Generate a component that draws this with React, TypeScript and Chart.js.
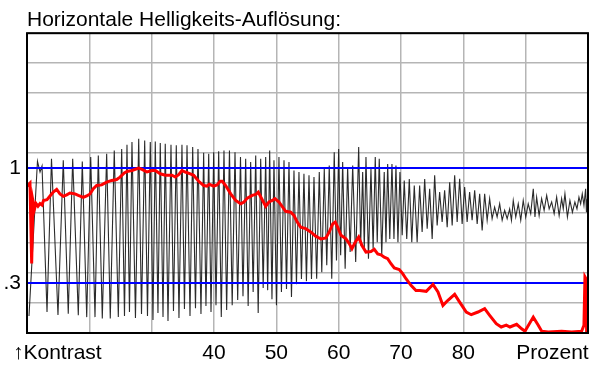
import { useEffect, useRef } from "react";
import { Chart, registerables } from "chart.js";

Chart.register(...registerables);

const TITLE = "Horizontale Helligkeits-Auflösung:";
const FONT = "'Liberation Sans', Arial, sans-serif";

const X_MIN = 10;
const X_MAX = 100;
const Y_MIN = 0;
const Y_MAX = 10;

const xTickValues = [14.86, 40, 50, 60, 70, 80, 94.3];
const xTickLabels = ["\u2191Kontrast", "40", "50", "60", "70", "80", "Prozent"];

const thresholdValues = [1.667, 5.5];
const thresholdLabels = [".3", "1"];

// red: measured contrast curve
const redX = [
  10.0, 10.48, 10.75, 10.96, 11.2, 11.44, 11.76, 12.09, 12.41, 12.65,
  13.21, 13.69, 14.22, 14.76, 15.29, 15.82, 16.37, 16.9, 17.7, 18.23,
  19.03, 19.58, 20.11, 20.64, 21.18, 21.98, 22.78, 23.59, 24.39, 24.92,
  25.61, 26.04, 26.84, 27.92, 28.45, 29.25, 30.05, 30.58, 31.38, 32.18,
  33.26, 33.79, 34.33, 34.86, 35.39, 36.2, 36.74, 37.54, 38.34, 38.87,
  39.24, 39.95, 40.48, 41.01, 41.33, 41.87, 42.68, 43.48, 44.28, 44.81,
  45.34, 46.14, 46.69, 47.1, 47.65, 48.29, 48.82, 49.35, 49.78, 50.42,
  51.5, 52.3, 52.83, 53.36, 53.9, 54.71, 55.51, 56.31, 56.84, 57.16,
  57.96, 58.49, 59.04, 59.45, 59.84, 60.37, 61.17, 61.7, 62.13, 62.66,
  63.21, 63.74, 64.38, 65.18, 65.71, 66.26, 66.79, 67.31, 67.86, 68.39,
  68.92, 69.72, 70.27, 70.8, 71.6, 72.4, 72.99, 74.05, 75.13, 75.93,
  76.73, 77.53, 78.61, 79.41, 80.47, 81.27, 82.35, 83.42, 84.22, 85.28,
  86.08, 86.89, 87.48, 88.55, 89.36, 89.89, 91.22, 92.02, 92.57, 93.63,
  95.77, 97.38, 98.98, 99.35, 99.51, 99.67, 99.78,
];
const redY = [
  4.9, 5.0, 2.32, 4.4, 4.13, 4.32, 4.23, 4.32, 4.27, 4.42,
  4.45, 4.57, 4.7, 4.79, 4.64, 4.56, 4.61, 4.67, 4.64, 4.59,
  4.52, 4.57, 4.64, 4.81, 4.92, 4.94, 5.03, 5.09, 5.12, 5.2,
  5.34, 5.39, 5.42, 5.5, 5.46, 5.37, 5.42, 5.42, 5.31, 5.26,
  5.26, 5.2, 5.28, 5.42, 5.37, 5.31, 5.26, 5.06, 4.92, 4.9,
  4.96, 4.9, 4.94, 5.06, 5.06, 4.92, 4.64, 4.42, 4.31, 4.37,
  4.5, 4.59, 4.62, 4.7, 4.48, 4.23, 4.37, 4.42, 4.48, 4.37,
  4.06, 4.03, 3.92, 3.7, 3.53, 3.48, 3.37, 3.23, 3.17, 3.14,
  3.17, 3.37, 3.64, 3.7, 3.53, 3.26, 3.14, 2.98, 2.81, 3.03,
  3.2, 2.92, 2.7, 2.72, 2.79, 2.64, 2.61, 2.53, 2.48, 2.31,
  2.17, 2.12, 1.98, 1.81, 1.59, 1.42, 1.42, 1.39, 1.62, 1.37,
  0.92, 1.09, 1.29, 1.03, 0.7, 0.61, 0.7, 0.81, 0.59, 0.31,
  0.2, 0.26, 0.2, 0.29, 0.14, 0.06, 0.53, 0.26, 0.06, 0.03,
  0.06, 0.03, 0.06, 0.26, 1.87, 1.81, 0.03,
];

// black: raw test-pattern signal (peaks and troughs)
const blackX = [
  10.32, 11.68, 12.09, 12.41, 13.21, 13.93, 14.97, 15.82, 16.62, 17.33, 18.23, 18.87, 19.58, 20.22, 20.91, 21.44, 22.08, 22.78, 23.36, 24.0, 24.65, 25.19,
  25.64, 26.04, 26.44, 26.84, 27.4, 27.92, 28.37, 28.88, 29.33, 29.78, 30.21, 30.58, 31.01, 31.38, 31.82, 32.18, 32.62, 33.1, 33.5, 33.95, 34.38, 34.86, 35.26, 35.67, 36.15, 36.58, 37.03, 37.43, 37.91, 38.34, 38.71, 39.15, 39.52, 39.95, 40.32, 40.75,
  41.17, 41.6, 42.03, 42.48, 42.92, 43.37, 43.8, 44.25, 44.65, 45.08, 45.48, 45.88, 46.28, 46.69, 47.09, 47.49, 47.89, 48.29, 48.61, 48.93, 49.3, 49.62, 50.02, 50.42, 50.82, 51.23, 51.63, 52.03, 52.43, 52.83, 53.23, 53.63, 54.03, 54.43, 54.83, 55.24, 55.64, 56.04,
  56.47, 56.89, 57.29, 57.69, 58.09, 58.49, 58.89, 59.29, 59.65, 60.0, 60.32, 60.64, 61.04, 61.44, 61.84, 62.25, 62.73, 63.21, 63.53, 63.85, 64.11, 64.38, 64.78, 65.18, 65.53, 65.87, 66.19, 66.51, 66.91, 67.31, 67.59, 67.86, 68.2, 68.55, 68.87, 69.19, 69.51, 69.83, 70.19, 70.52, 70.92, 71.33, 71.73, 72.13,
  72.59, 72.99, 73.39, 73.8, 74.2, 74.6, 75.0, 75.4, 75.8, 76.2, 76.6, 77.0, 77.41, 77.81, 78.21, 78.61, 79.01, 79.41, 79.81, 80.21, 80.61, 81.01, 81.41, 81.82, 82.22, 82.62, 83.02, 83.42, 83.82, 84.22, 84.62, 85.02, 85.42, 85.83, 86.23, 86.63, 87.03, 87.43,
  87.72, 88.01, 88.41, 88.81, 89.21, 89.61, 90.01, 90.41, 90.81, 91.22, 91.49, 91.76, 92.16, 92.56, 92.96, 93.37, 93.77, 94.17, 94.57, 94.97, 95.37, 95.77, 96.03, 96.3, 96.7, 97.1, 97.5, 97.9, 98.23, 98.55, 98.82, 99.08, 99.35, 99.62, 99.75, 99.88, 100.0,
];
const blackY = [
  0.57, 5.73, 5.37, 5.57, 0.7, 5.81, 0.6, 5.76, 0.64, 5.81, 0.59, 5.72, 0.53, 5.87, 0.53, 5.92, 0.48, 5.98, 0.48, 6.09, 0.53, 6.14,
  0.57, 6.28, 0.7, 6.37, 0.5, 6.48, 0.63, 6.42, 0.57, 6.37, 0.43, 6.39, 0.67, 6.34, 0.53, 6.31, 0.4, 6.28, 0.73, 6.26, 0.5, 6.28, 0.8, 6.26, 0.57, 6.2, 0.83, 6.14, 0.63, 6.01, 0.9, 5.98, 0.7, 6.03, 0.93, 6.06,
  0.53, 6.09, 0.77, 6.09, 0.93, 6.03, 1.1, 5.87, 1.23, 5.81, 0.9, 5.7, 1.37, 5.92, 0.67, 5.81, 1.5, 5.87, 1.43, 6.09, 1.13, 5.76, 0.93, 5.87, 1.37, 5.76, 1.47, 5.7, 1.2, 5.42, 1.63, 5.37, 1.8, 5.31, 1.73, 5.26, 1.8, 5.2,
  1.81, 5.37, 2.03, 5.48, 2.26, 5.59, 1.81, 6.03, 2.42, 6.14, 2.59, 5.7, 2.14, 5.53, 2.7, 5.59, 2.37, 6.2, 2.92, 5.37, 2.81, 5.87, 2.48, 5.48, 2.81, 5.87, 3.03, 5.81, 2.59, 5.37, 3.03, 5.64, 3.14, 5.64, 3.14, 5.59, 3.03, 5.37, 3.26, 5.09, 3.14, 5.14, 3.03, 4.92,
  3.03, 4.92, 3.37, 5.14, 3.48, 4.81, 3.14, 5.26, 3.59, 4.7, 3.7, 4.76, 3.53, 5.03, 3.59, 5.26, 3.7, 5.14, 3.64, 4.87, 3.7, 4.7, 3.76, 4.76, 3.64, 4.64, 3.42, 4.64, 3.76, 4.48, 3.81, 4.2, 3.87, 4.31, 3.76, 4.09, 3.81, 4.14,
  3.76, 4.42, 3.87, 4.31, 3.76, 4.42, 3.87, 4.31, 3.98, 4.81, 3.87, 4.53, 3.92, 4.48, 4.09, 4.59, 4.14, 4.37, 3.98, 4.53, 3.92, 4.48, 4.14, 4.64, 3.87, 4.42, 4.03, 4.37, 4.14, 4.53, 4.31, 4.64, 4.26, 4.81, 4.03, 4.48, 4.03,
];

const boxPlugin = {
  id: "plotBox",
  afterDatasetsDraw(chart: any) {
    const { ctx, chartArea: a } = chart;
    ctx.save();
    ctx.strokeStyle = "#000";
    ctx.lineWidth = 2;
    ctx.strokeRect(a.left, a.top, a.right - a.left, a.bottom - a.top);
    ctx.restore();
  },
};

export default function App() {
  const ref = useRef<HTMLCanvasElement>(null);

  useEffect(() => {
    document.body.style.margin = "0";
    const canvas = ref.current;
    if (!canvas) return;

    const red = redX.map((x, i) => ({ x, y: redY[i] }));
    const black = blackX.map((x, i) => ({ x, y: blackY[i] }));
    const thresholds = thresholdValues.map((v, i) => ({
      label: "Schwelle " + thresholdLabels[i],
      data: [
        { x: X_MIN, y: v },
        { x: X_MAX, y: v },
      ],
      borderColor: "#0000ff",
      borderWidth: 2,
      pointRadius: 0,
      order: 1,
      xAxisID: "x",
      yAxisID: "y",
    }));

    const chart = new Chart(canvas, {
      type: "line",
      data: {
        datasets: [
          {
            label: "Kontrast",
            data: red,
            borderColor: "#ff0000",
            borderWidth: 3,
            pointRadius: 0,
            order: 0,
            xAxisID: "x",
            yAxisID: "y",
          },
          ...thresholds,
          {
            label: "Signal",
            data: black,
            borderColor: "rgba(20,20,20,0.9)",
            borderWidth: 1.1,
            pointRadius: 0,
            order: 2,
            xAxisID: "x",
            yAxisID: "y",
          },
        ],
      },
      options: {
        responsive: false,
        animation: false,
        devicePixelRatio: 1,
        layout: { padding: { top: 8, right: 12, bottom: 0, left: 0 } },
        plugins: {
          legend: { display: false },
          tooltip: { enabled: false },
          title: {
            display: true,
            text: TITLE,
            align: "start",
            fullSize: false,
            color: "#000",
            font: { family: FONT, size: 21, weight: "normal" },
            padding: { top: 0, bottom: 0 },
          },
        },
        scales: {
          x: {
            type: "linear",
            min: X_MIN,
            max: X_MAX,
            ticks: { display: false, stepSize: 10 },
            grid: { color: "#b5b5b5", lineWidth: 1.5, drawTicks: false },
            border: { display: false },
            afterFit: (s: any) => {
              s.height = 0;
            },
          },
          xLab: {
            type: "linear",
            position: "bottom",
            min: X_MIN,
            max: X_MAX,
            grid: { display: false, drawTicks: false },
            border: { display: false },
            afterBuildTicks: (s: any) => {
              s.ticks = xTickValues.map((v) => ({ value: v }));
            },
            ticks: {
              autoSkip: false,
              maxRotation: 0,
              padding: 8,
              color: "#000",
              font: { family: FONT, size: 21 },
              callback: (_v: any, i: number) => xTickLabels[i],
            },
            afterFit: (s: any) => {
              s.height = 37;
            },
          },
          y: {
            type: "linear",
            min: Y_MIN,
            max: Y_MAX,
            ticks: { display: false, stepSize: 1 },
            grid: { color: "#b5b5b5", lineWidth: 1.5, drawTicks: false },
            border: { display: false },
            afterFit: (s: any) => {
              s.width = 0;
            },
          },
          yLab: {
            type: "linear",
            position: "left",
            min: Y_MIN,
            max: Y_MAX,
            grid: { display: false, drawTicks: false },
            border: { display: false },
            afterBuildTicks: (s: any) => {
              s.ticks = thresholdValues.map((v) => ({ value: v }));
            },
            ticks: {
              padding: 6,
              color: "#000",
              font: { family: FONT, size: 21 },
              callback: (_v: any, i: number) => thresholdLabels[i],
            },
            afterFit: (s: any) => {
              s.width = 27;
            },
          },
        },
      } as any,
      plugins: [boxPlugin],
    });

    return () => chart.destroy();
  }, []);

  return (
    <div style={{ width: 600, height: 370 }}>
      <canvas ref={ref} width={600} height={370} style={{ display: "block" }} />
    </div>
  );
}
